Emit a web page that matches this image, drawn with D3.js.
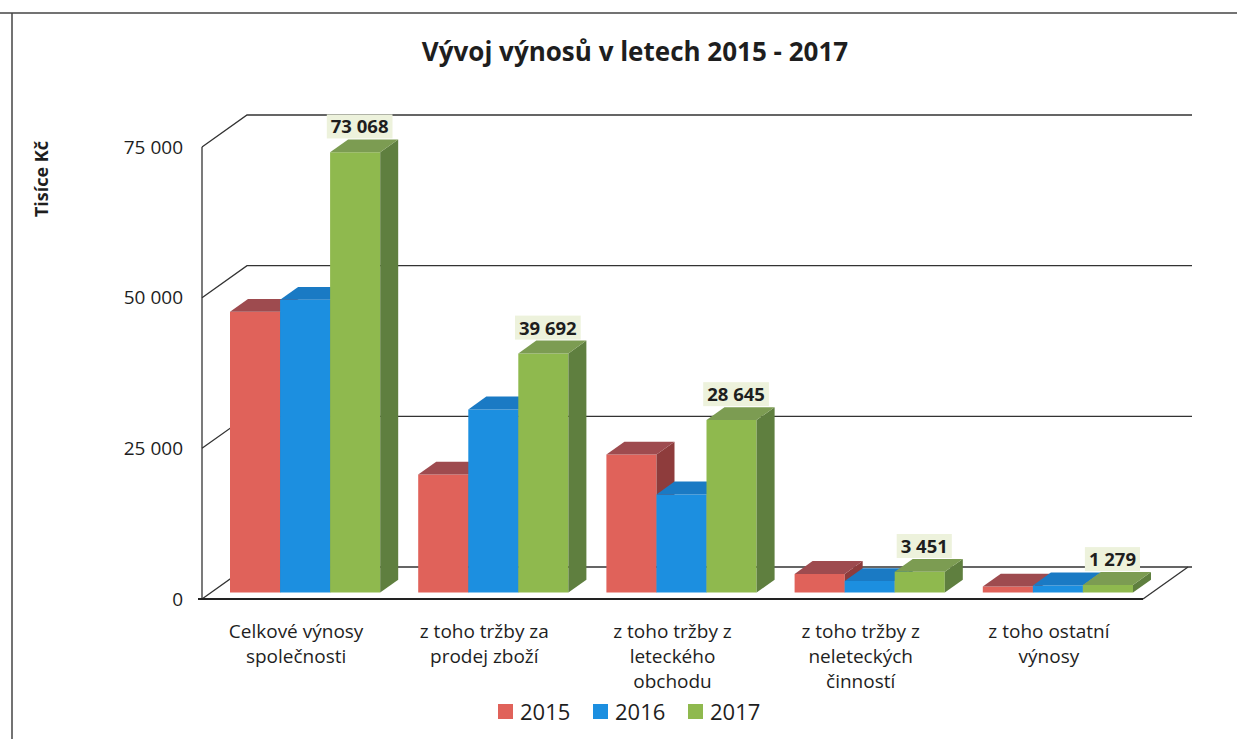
<!DOCTYPE html>
<html>
<head>
<meta charset="utf-8">
<script src="https://cdn.jsdelivr.net/npm/d3@7"></script>
<style>
	body { margin: 0; background: #fff; }
	svg { display: block; }
	text { font-family: "Open Sans", "DejaVu Sans", sans-serif; fill: #1e1e1e; }
</style>
</head>
<body>
<div id="chart"></div>
<script>
//chart data
var categories = [
	["Celkové výnosy", "společnosti"],
	["z toho tržby za", "prodej zboží"],
	["z toho tržby z", "leteckého", "obchodu"],
	["z toho tržby z", "neleteckých", "činností"],
	["z toho ostatní", "výnosy"]
];
var years = ["2015", "2016", "2017"];
var values2015 = [46600, 19600, 22900, 3100, 1000];
var values2016 = [48600, 30400, 16300, 1900, 1200];
var values2017 = [73068, 39692, 28645, 3451, 1279];
var yTicks = [0, 25000, 50000, 75000];
var titleText = "Vývoj výnosů v letech 2015 - 2017";
var yTitle = "Tisíce Kč";

var seriesValues = [values2015, values2016, values2017];
var frontColors = ["#e0625a", "#1c8fe0", "#8fb94e"];
var topColors = ["#9e4b4f", "#1a7ac4", "#7c9c52"];
var sideColors = ["#8e3c3c", "#17649e", "#5f7f3f"];

var width = 1237, height = 739;

var svg = d3.select("#chart").append("svg")
	.attr("width", width)
	.attr("height", height);

//depth of the 3d box (z from 0 front to 1 back)
var depthX = 45, depthY = -32;
var barZ0 = 0.2, barZ1 = 0.6;

var x0 = d3.scaleBand()
	.domain(d3.range(categories.length))
	.range([202, 1143])
	.paddingInner(0)
	.paddingOuter(0);

var x1 = d3.scaleBand()
	.domain(years)
	.range([0, x0.bandwidth()])
	.paddingInner(0)
	.paddingOuter(0.38);

var y = d3.scaleLinear()
	.domain([0, 75000])
	.range([599, 147]);

function pt(px, v, z) {
	return [px + depthX * z, y(v) + depthY * z];
}
function poly(points) {
	return points.map(function (p) { return p[0].toFixed(1) + "," + p[1].toFixed(1); }).join(" ");
}

//frame of the chart
svg.append("line")
	.attr("x1", 0).attr("x2", width).attr("y1", 13).attr("y2", 13)
	.attr("stroke", "#444").attr("stroke-width", 1.5);
svg.append("line")
	.attr("x1", 12).attr("x2", 12).attr("y1", 13).attr("y2", height)
	.attr("stroke", "#444").attr("stroke-width", 1.5);

//walls and gridlines
var xLeft = x0.range()[0], xRight = x0.range()[1];
var grid = svg.append("g").attr("stroke", "#333").attr("stroke-width", 1.3).attr("fill", "none");

yTicks.forEach(function (t) {
	var a = pt(xLeft, t, 0), b = pt(xLeft, t, 1), c = pt(xRight, t, 1);
	grid.append("polyline")
		.attr("points", poly([a, b, [c[0] + 4, c[1]]]));
});
grid.append("line")
	.attr("x1", xLeft).attr("x2", xLeft)
	.attr("y1", y(75000)).attr("y2", y(0));

//floor
var f1 = pt(xLeft, 0, 0), f2 = pt(xRight, 0, 0), f3 = pt(xRight, 0, 1);
grid.append("polyline").attr("points", poly([f2, f3]));
svg.append("line")
	.attr("x1", f1[0] - 4).attr("x2", f2[0])
	.attr("y1", f1[1]).attr("y2", f2[1])
	.attr("stroke", "#222").attr("stroke-width", 2.2);

//bars
var bars = svg.append("g");
categories.forEach(function (cat, ci) {
	years.forEach(function (yr, si) {
		var v = seriesValues[si][ci];
		var xa = x0(ci) + x1(yr);
		var xb = xa + x1.bandwidth();
		var g = bars.append("g");
		//front face
		g.append("polygon")
			.attr("points", poly([pt(xa, 0, barZ0), pt(xb, 0, barZ0), pt(xb, v, barZ0), pt(xa, v, barZ0)]))
			.attr("fill", frontColors[si]);
		//right side
		g.append("polygon")
			.attr("points", poly([pt(xb, 0, barZ0), pt(xb, 0, barZ1), pt(xb, v, barZ1), pt(xb, v, barZ0)]))
			.attr("fill", sideColors[si]);
		//top face
		g.append("polygon")
			.attr("points", poly([pt(xa, v, barZ0), pt(xb, v, barZ0), pt(xb, v, barZ1), pt(xa, v, barZ1)]))
			.attr("fill", topColors[si]);
	});
});

//value labels for 2017
var fmt = d3.formatLocale({ decimal: ",", thousands: " ", grouping: [3], currency: ["", " Kč"] }).format(",");
var labels = svg.append("g");
values2017.forEach(function (v, ci) {
	var xa = x0(ci) + x1("2017");
	var c = pt(xa + x1.bandwidth() / 2, v, 0.3);
	var back = pt(xa, v, barZ1);
	var lg = labels.append("g");
	var rect = lg.append("rect").attr("fill", "#edf2dc");
	var txt = lg.append("text")
		.attr("x", c[0])
		.attr("y", back[1] - 6)
		.attr("text-anchor", "middle")
		.style("font-size", "18.5px")
		.style("font-weight", "bold")
		.text(fmt(v));
	var bb = txt.node().getBBox();
	rect.attr("x", bb.x - 4).attr("y", back[1] - 25)
		.attr("width", bb.width + 8).attr("height", 24);
});

//y axis labels
var yAxis = d3.axisLeft(y)
	.tickValues(yTicks)
	.tickSize(0)
	.tickPadding(19)
	.tickFormat(fmt);
var ax = svg.append("g")
	.attr("transform", "translate(" + xLeft + ",0)")
	.call(yAxis);
ax.select(".domain").remove();
ax.selectAll("text")
	.style("font-family", "\"Open Sans\", sans-serif")
	.style("font-size", "19px")
	.attr("fill", "#1e1e1e");

svg.append("text")
	.attr("transform", "translate(48,179) rotate(-90)")
	.attr("text-anchor", "middle")
	.style("font-size", "18px")
	.style("font-weight", "bold")
	.text(yTitle);

//category labels
categories.forEach(function (cat, ci) {
	var cx = x0(ci) + x0.bandwidth() / 2;
	var t = svg.append("text")
		.attr("x", cx)
		.attr("y", 638)
		.attr("text-anchor", "middle")
		.style("font-size", "19px");
	cat.forEach(function (line, li) {
		t.append("tspan")
			.attr("x", cx)
			.attr("dy", li == 0 ? 0 : 25)
			.text(line);
	});
});

//legend
var legend = svg.append("g").attr("transform", "translate(498,0)");
var legendX = [0, 95, 190];
years.forEach(function (yr, si) {
	legend.append("rect")
		.attr("x", legendX[si]).attr("y", 704)
		.attr("width", 15).attr("height", 15)
		.attr("fill", frontColors[si]);
	legend.append("text")
		.attr("x", legendX[si] + 22).attr("y", 720)
		.style("font-size", "22px")
		.text(yr);
});

//title
svg.append("text")
	.attr("x", 635)
	.attr("y", 61)
	.attr("text-anchor", "middle")
	.style("font-size", "26px")
	.style("font-weight", "bold")
	.text(titleText);
</script>
</body>
</html>
